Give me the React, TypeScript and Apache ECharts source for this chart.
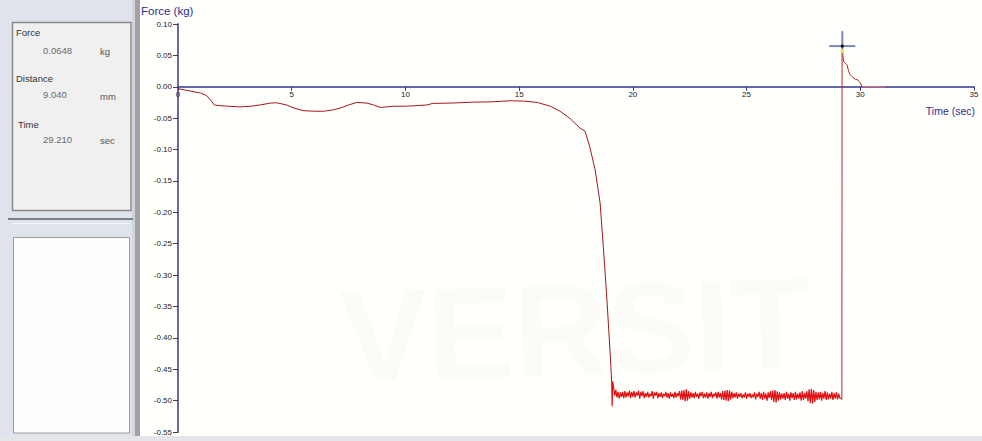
import React, { useEffect, useRef } from "react";
import * as echarts from "echarts";

// ---- data ----
const xTicks = [0, 5, 10, 15, 20, 25, 30, 35];
const yTicks = [0.1, 0.05, 0, -0.05, -0.1, -0.15, -0.2, -0.25, -0.3, -0.35, -0.4, -0.45, -0.5, -0.55];

// slow phase (dark red)
const slowTimes = [0, 0.3, 0.7, 1.0, 1.26, 1.45, 1.6, 1.8, 2.2, 2.73, 3.2, 3.6, 4.06, 4.34, 4.78, 5.1, 5.5, 6.0, 6.4, 6.8, 7.13, 7.5, 7.86, 8.3, 8.6, 8.9, 9.48, 10.0, 10.5, 10.94, 11.2, 12.0, 13.0, 13.8, 14.6, 15.2, 15.8, 16.37, 16.8, 17.25, 17.45, 17.68, 17.9, 18.1, 18.34, 18.56, 18.7, 18.86, 19.0, 19.07];
const slowForce = [-0.003, -0.005, -0.008, -0.01, -0.014, -0.022, -0.029, -0.03, -0.031, -0.032, -0.031, -0.029, -0.026, -0.0255, -0.029, -0.034, -0.038, -0.039, -0.039, -0.037, -0.034, -0.029, -0.025, -0.026, -0.029, -0.033, -0.031, -0.031, -0.03, -0.029, -0.0265, -0.026, -0.0245, -0.024, -0.0223, -0.0228, -0.025, -0.031, -0.039, -0.051, -0.058, -0.066, -0.071, -0.095, -0.132, -0.185, -0.254, -0.339, -0.424, -0.471];

// plateau with noise (bright red)
const plateauHeadTimes = [19.07, 19.09, 19.11];
const plateauHeadForce = [-0.471, -0.509, -0.469];
const plateauStart = 19.15;
const plateauStep = 0.05;
const plateauForce = [
  -0.478, -0.492, -0.483, -0.495, -0.486, -0.497, -0.487, -0.494, -0.486, -0.496,
  -0.485, -0.495, -0.487, -0.493, -0.484, -0.496, -0.486, -0.494, -0.485, -0.495,
  -0.487, -0.492, -0.484, -0.497, -0.486, -0.493, -0.485, -0.496, -0.488, -0.494,
  -0.486, -0.495, -0.489, -0.493, -0.485, -0.497, -0.487, -0.492, -0.486, -0.496,
  -0.488, -0.494, -0.487, -0.496, -0.489, -0.493, -0.486, -0.495, -0.488, -0.497,
  -0.487, -0.494, -0.489, -0.496, -0.486, -0.495, -0.488, -0.493, -0.485, -0.498,
  -0.484, -0.499, -0.483, -0.501, -0.482, -0.5, -0.485, -0.497, -0.487, -0.495,
  -0.488, -0.496, -0.486, -0.494, -0.489, -0.497, -0.487, -0.493, -0.486, -0.496,
  -0.489, -0.495, -0.487, -0.497, -0.488, -0.494, -0.486, -0.496, -0.489, -0.493,
  -0.487, -0.497, -0.486, -0.495, -0.488, -0.498, -0.485, -0.499, -0.484, -0.5,
  -0.483, -0.501, -0.484, -0.498, -0.486, -0.496, -0.488, -0.495, -0.487, -0.497,
  -0.489, -0.494, -0.488, -0.496, -0.49, -0.495, -0.487, -0.497, -0.489, -0.494,
  -0.488, -0.496, -0.49, -0.495, -0.487, -0.498, -0.489, -0.494, -0.486, -0.497,
  -0.488, -0.499, -0.486, -0.497, -0.489, -0.5, -0.487, -0.496, -0.485, -0.499,
  -0.484, -0.502, -0.483, -0.503, -0.485, -0.5, -0.487, -0.498, -0.489, -0.497,
  -0.488, -0.499, -0.486, -0.497, -0.489, -0.5, -0.487, -0.496, -0.488, -0.499,
  -0.486, -0.498, -0.489, -0.497, -0.487, -0.5, -0.485, -0.499, -0.488, -0.497,
  -0.485, -0.501, -0.482, -0.504, -0.481, -0.505, -0.483, -0.502, -0.486, -0.499,
  -0.487, -0.498, -0.486, -0.5, -0.488, -0.497, -0.485, -0.499, -0.487, -0.498,
  -0.489, -0.497, -0.486, -0.499, -0.488, -0.497, -0.487, -0.498, -0.489, -0.496,
  -0.496,
];

// release and decay
const releaseTimes = [29.15, 29.19, 29.2, 29.27, 29.35, 29.42, 29.49, 29.56, 29.64, 29.78, 29.89, 29.95, 30.0, 30.08];
const releaseForce = [-0.496, -0.498, 0.058, 0.04, 0.037, 0.035, 0.024, 0.019, 0.016, 0.012, 0.011, 0.008, 0.006, 0.0];

// trailing zero line
const tailTimes = [30.08, 31.1];
const tailForce = [0, 0];

// cursor readout
const cursorTime = 29.21;
const cursorForce = 0.0648;
const cursorDistance = 9.04;

const pairs = (t: number[], v: number[]) => t.map((x, i) => [x, v[i]]);

const FONT = "'Liberation Sans', Arial, sans-serif";
const NARROW = "'Liberation Sans Narrow', 'Arial Narrow', 'Liberation Sans', Arial, sans-serif";

const W = 982;
const H = 441;
const GRID = { left: 178, right: 8, top: 24, bottom: 9 };

export default function App() {
  const ref = useRef<HTMLDivElement>(null);

  useEffect(() => {
    if (!ref.current) return;
    const chart = echarts.init(ref.current, undefined, { renderer: "svg" });

    const yMin = yTicks[yTicks.length - 1];
    const yMax = yTicks[0];
    const plotH = H - GRID.top - GRID.bottom;
    // place the time axis on the zero line (distance from the grid's bottom edge)
    const zeroFromBottom = ((0 - yMin) / (yMax - yMin)) * plotH;

    const plateauData = [
      ...pairs(plateauHeadTimes, plateauHeadForce),
      ...plateauForce.map((v, i) => [plateauStart + i * plateauStep, v]),
    ];

    const panelText = (text: string, x: number, y: number, fill = "#333", size = 9.5) => ({
      type: "text",
      style: { text, x, y, fill, fontSize: size, fontFamily: FONT, textVerticalAlign: "middle" },
      z: 10,
    });
    const button = (y: number, h: number) => ({
      type: "group",
      children: [
        { type: "rect", shape: { x: 17, y, width: 18, height: h, r: 2 }, style: { fill: "#e9e9e9", stroke: "#9c9c9c", lineWidth: 1 } },
        { type: "text", style: { text: "#", x: 26, y: y + h / 2, fill: "#333", fontSize: 9, fontFamily: FONT, textAlign: "center", textVerticalAlign: "middle" } },
        { type: "rect", shape: { x: 38, y, width: 59, height: h }, style: { fill: "#f7f7f7", stroke: "#e2e2e2", lineWidth: 1 } },
      ],
    });

    const graphic: any[] = [
      { type: "rect", shape: { x: 140, y: 0, width: 842, height: 441 }, style: { fill: "#fffffc" }, z: -10 },
      {
        type: "text",
        rotation: 0.03,
        style: { text: "VERSIT", x: 330, y: 412, fill: "rgba(190,185,150,0.05)", fontSize: 130, fontWeight: "bold", fontFamily: FONT, textVerticalAlign: "bottom" },
        z: -9,
      },
      { type: "rect", shape: { x: 0, y: 0, width: 135, height: 441 }, style: { fill: "#dfe4ec" }, z: 1 },
      { type: "rect", shape: { x: 132, y: 0, width: 3, height: 436 }, style: { fill: "#d2d6dc" }, z: 2 },
      { type: "rect", shape: { x: 135, y: 0, width: 5, height: 436 }, style: { fill: "#a2a2a4" }, z: 2 },
      { type: "rect", shape: { x: 12.5, y: 22.5, width: 118.5, height: 188 }, style: { fill: "#f0f0f0", stroke: "#8a8a8a", lineWidth: 1.5 }, z: 3 },
      panelText("Force", 16, 32),
      button(42, 16),
      panelText(cursorForce.toFixed(4), 43, 50, "#6a6a6a"),
      panelText("kg", 100, 51, "#555"),
      panelText("Distance", 16, 78),
      button(86, 16),
      panelText(cursorDistance.toFixed(3), 43, 94, "#6a6a6a"),
      panelText("mm", 100, 96, "#555"),
      panelText("Time", 18, 124),
      button(131, 17),
      panelText(cursorTime.toFixed(3), 43, 139.5, "#6a6a6a"),
      panelText("sec", 100, 140, "#555"),
      { type: "rect", shape: { x: 8, y: 218, width: 125, height: 2 }, style: { fill: "#7a7f88" }, z: 3 },
      { type: "rect", shape: { x: 12, y: 223, width: 118, height: 1 }, style: { fill: "#f6f7f9" }, z: 3 },
      { type: "rect", shape: { x: 13.5, y: 237.5, width: 116, height: 195.5 }, style: { fill: "#fefefd", stroke: "#9a9a9a", lineWidth: 1 }, z: 3 },
      { type: "rect", shape: { x: 0, y: 436, width: 982, height: 5 }, style: { fill: "#e3e5e9" }, z: 3 },
      {
        type: "text",
        style: { text: "Force (kg)", x: 141, y: 11, fill: "#2e2e8c", fontSize: 11.5, fontFamily: FONT, textVerticalAlign: "middle" },
        z: 10,
      },
      {
        type: "text",
        style: { text: "Time (sec)", x: 975, y: 111, fill: "#2e2e8c", fontSize: 10.5, fontFamily: FONT, textAlign: "right", textVerticalAlign: "middle" },
        z: 10,
      },
    ];

    const lineSeries = (data: number[][], color: string, z = 3, width = 1) => ({
      type: "line",
      data,
      showSymbol: false,
      symbol: "none",
      lineStyle: { color, width },
      z,
      silent: true,
    });

    chart.setOption({
      animation: false,
      backgroundColor: "#ffffff",
      grid: { ...GRID, containLabel: false },
      xAxis: {
        type: "value",
        position: "bottom",
        offset: -zeroFromBottom,
        min: xTicks[0],
        max: xTicks[xTicks.length - 1],
        interval: 5,
        axisLine: { onZero: false, lineStyle: { color: "#34348c", width: 1.5 } },
        axisTick: { show: true, length: 4, lineStyle: { color: "#34348c" } },
        axisLabel: { fontSize: 8, color: "#222", margin: 4, fontFamily: NARROW },
        splitLine: { show: false },
      },
      yAxis: {
        type: "value",
        min: yMin,
        max: yMax,
        interval: 0.05,
        axisLine: { show: true, onZero: false, lineStyle: { color: "#6a6aa6", width: 2 } },
        axisTick: { show: true, length: 5, lineStyle: { color: "#444" } },
        axisLabel: {
          fontSize: 8,
          color: "#222",
          margin: 6,
          fontFamily: NARROW,
          formatter: (v: number) => (Math.abs(v) < 1e-9 ? "0.00" : v.toFixed(2)),
        },
        splitLine: { show: false },
      },
      graphic,
      series: [
        lineSeries(pairs(slowTimes, slowForce), "#a3171c"),
        lineSeries(plateauData, "#e01010", 3, 1.2),
        lineSeries(pairs(releaseTimes, releaseForce), "#b52a2a"),
        lineSeries(pairs(tailTimes, tailForce), "#f07a6a", 2),
        {
          type: "custom",
          silent: true,
          z: 6,
          data: [[cursorTime, cursorForce]],
          renderItem: (_p: any, api: any) => {
            const c = api.coord([api.value(0), api.value(1)]);
            return {
              type: "group",
              children: [
                { type: "line", shape: { x1: c[0] - 13, y1: c[1], x2: c[0] + 13, y2: c[1] }, style: { stroke: "#7a86b8", lineWidth: 2 } },
                { type: "line", shape: { x1: c[0], y1: c[1] - 15, x2: c[0], y2: c[1] + 8 }, style: { stroke: "#7a86b8", lineWidth: 2 } },
                { type: "rect", shape: { x: c[0] - 1.5, y: c[1] + 3, width: 3, height: 4 }, style: { fill: "#e8e840" } },
                { type: "circle", shape: { cx: c[0], cy: c[1], r: 1.6 }, style: { fill: "#000" } },
              ],
            };
          },
        },
      ],
    });

    return () => chart.dispose();
  }, []);

  return <div ref={ref} style={{ position: "absolute", left: 0, top: 0, width: W, height: H }} />;
}
